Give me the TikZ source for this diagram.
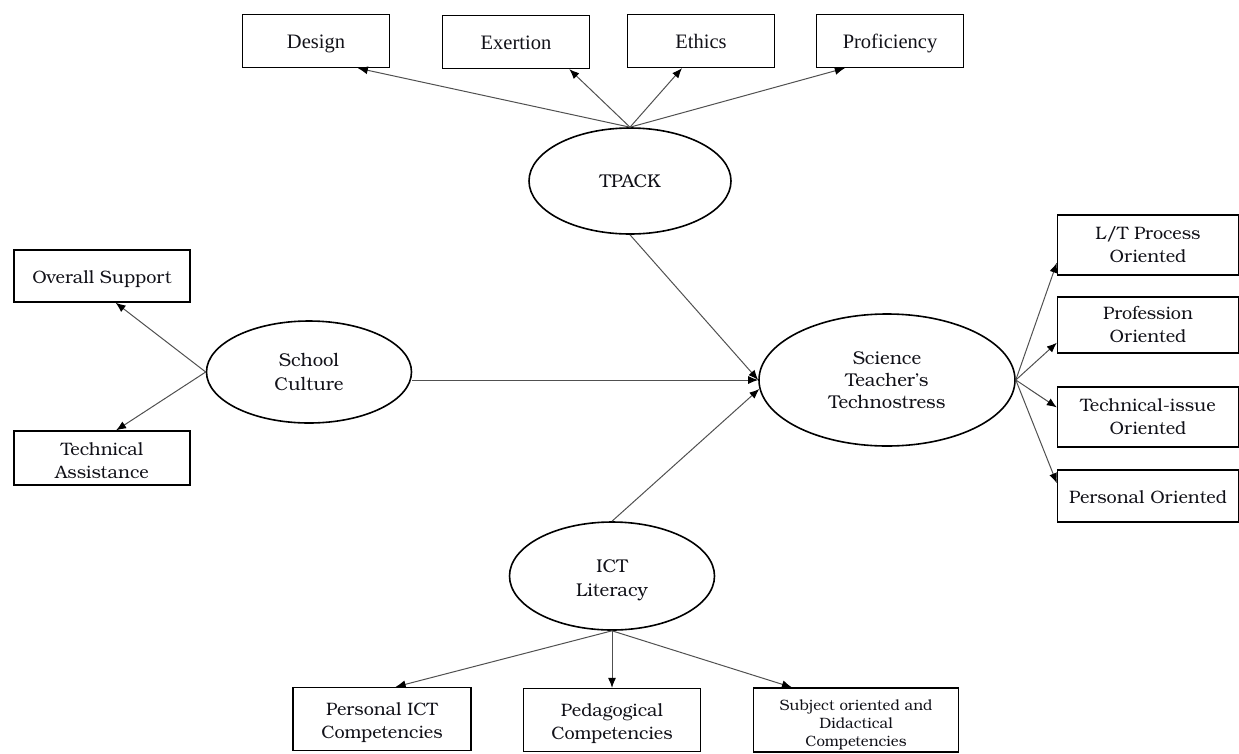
\documentclass[tikz,border=0pt]{standalone}
\usepackage{fontspec}
\setmainfont{TeX Gyre Bonum}
\newfontfamily\timesfont{Liberation Serif}
\usetikzlibrary{arrows.meta,shapes.geometric}
\definecolor{ink}{HTML}{111118}
\definecolor{wire}{HTML}{505050}
\tikzset{
  box/.style={draw=black,line width=1.3pt,inner sep=0pt,text=ink,align=center,
    font=\fontsize{18}{23}\selectfont},
  topbox/.style={box,minimum width=147pt,minimum height=53pt,text height=19pt,text depth=4.5pt,
    font=\timesfont\fontsize{20.5}{23}\selectfont},
  oneline/.style={text height=19pt,text depth=3.8pt},
  sidebox/.style={box,minimum width=176pt},
  rightbox/.style={box,minimum width=181pt},
  lowbox/.style={box,minimum height=63pt,text height=44pt,text depth=4.5pt},
  construct/.style={ellipse,draw=black,line width=1.6pt,inner sep=0pt,text=ink,
    align=center,font=\fontsize{18.5}{24}\selectfont},
  arrow/.style={-{Latex[length=10pt,width=8pt,color=black]},draw=wire,line width=1pt}
}

\begin{document}
\begin{tikzpicture}[x=1pt,y=-1pt]
  \path[use as bounding box] (0,0) rectangle (1239,753);

  % TPACK and its indicators.
  \node[construct,minimum width=202pt,minimum height=106pt] (tpack) at (630,181) {TPACK};
  \node[topbox] (design) at (316,41) {Design};
  \node[topbox] (exertion) at (516,42) {Exertion};
  \node[topbox] (ethics) at (701,41) {Ethics};
  \node[topbox] (proficiency) at (890,41) {Proficiency};
  \draw[arrow] (tpack.north) -- (design.-33);
  \draw[arrow] (tpack.north) -- (exertion.-27);
  \draw[arrow] (tpack.north) -- (ethics.-125);
  \draw[arrow] (tpack.north) -- (proficiency.-149);

  % School culture.
  \node[construct,minimum width=205pt,minimum height=102pt] (school) at (309,372) {School\\Culture};
  \node[sidebox,oneline,minimum height=52pt] (support) at (102,276) {Overall Support};
  \node[sidebox,minimum height=54pt,text height=40pt,text depth=0pt] (assist) at (102,458)
    {Technical\\Assistance};
  \draw[arrow] (school.west) -- (support.-63);
  \draw[arrow] (school.west) -- (assist.63);

  % Technostress and its dimensions.
  \node[construct,minimum width=256pt,minimum height=132pt,font=\fontsize{18.5}{22}\selectfont]
    (stress) at (887,380) {Science\\Teacher’s\\Technostress};
  \node[rightbox,minimum height=60pt] (process) at (1148,245) {L/T Process\\Oriented};
  \node[rightbox,minimum height=56pt] (profession) at (1148,325) {Profession\\Oriented};
  \node[rightbox,minimum height=60pt] (technical) at (1148,417) {Technical-issue\\Oriented};
  \node[rightbox,oneline,minimum height=52pt] (personal) at (1148,496) {Personal Oriented};
  \draw[arrow] (stress.east) -- (process.191);
  \draw[arrow] (stress.east) -- (profession.191);
  \draw[arrow] (stress.east) -- (technical.174);
  \draw[arrow] (stress.east) -- (personal.172);

  % ICT literacy.
  \node[construct,minimum width=205pt,minimum height=108pt,text height=45pt,text depth=4.6pt]
    (ict) at (612,576) {ICT\\Literacy};
  \node[lowbox,minimum width=178pt] (personalict) at (382,719) {Personal ICT\\Competencies};
  \node[lowbox,minimum width=177pt] (pedagogy) at (612,720) {Pedagogical\\Competencies};
  \node[lowbox,minimum width=205pt,minimum height=64pt,text height=57pt,text depth=3.8pt,
    font=\fontsize{15}{18}\selectfont] (didactic) at (856,720)
    {Subject oriented and\\Didactical\\Competencies};
  \draw[arrow] (ict.south) -- (personalict.67);
  \draw[arrow] (ict.south) -- (pedagogy.north);
  \draw[arrow] (ict.south) -- (didactic.153);

  % Paths into technostress.
  \draw[arrow] (tpack.south) -- (stress.west);
  \draw[arrow] (school.east |- stress.west) -- (stress.west);
  \draw[arrow] (ict.north) -- (stress.184.5);
\end{tikzpicture}
\end{document}
